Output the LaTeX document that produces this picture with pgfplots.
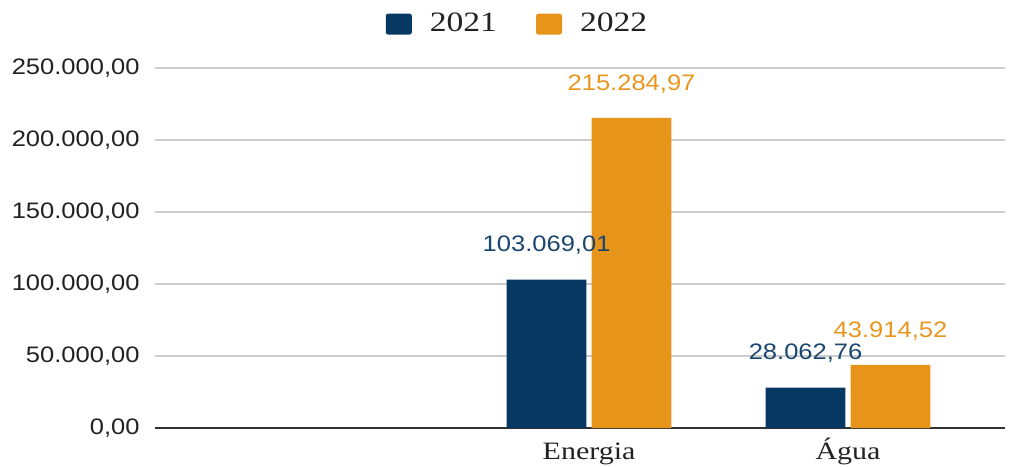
\documentclass[border=0pt]{standalone}
\usepackage{fontspec}
\setmainfont[FakeStretch=1.2]{Liberation Serif}
\newfontfamily\labfont[FakeStretch=1.14]{Liberation Sans}
\usepackage{pgfplots}
\pgfplotsset{compat=1.18}
\definecolor{navy}{HTML}{073763}
\definecolor{orng}{HTML}{E6941A}
\definecolor{navylab}{HTML}{1B4670}
\definecolor{orlab}{HTML}{E8961E}
\definecolor{txt}{HTML}{222222}
\begin{document}
\begin{tikzpicture}
\useasboundingbox (-77.5pt,-19pt) rectangle (428pt,214pt);
\begin{axis}[
  scale only axis,
  width=425pt, height=180pt,
  xmin=-0.676, xmax=2.606,
  ymin=0, ymax=250000,
  ytick={0,50000,100000,150000,200000,250000},
  xtick={1,2},
  xticklabels={Energia,Água},
  axis x line*=bottom,
  axis y line*=left,
  y axis line style={draw=none},
  x axis line style={draw=black!80, line width=0.7pt},
  major tick length=0pt,
  ymajorgrids,
  grid style={black!20, line width=0.6pt},
  scaled y ticks=false,
  /pgf/number format/.cd, fixed, fixed zerofill, precision=2, use comma, 1000 sep={.}, assume math mode=true,
  /pgfplots/.cd,
  yticklabel style={font=\labfont\fontsize{11.2}{13}\selectfont, text=txt, anchor=east, inner sep=0pt, xshift=-7.5pt},
  xticklabel style={font=\fontsize{12.5}{14}\selectfont, text=txt, anchor=base, inner sep=0pt, yshift=-15.5pt},
  ybar=0pt,
  bar width=0.308,
  nodes near coords,
  every node near coord/.append style={font=\labfont\fontsize{11.2}{13}\selectfont, anchor=center, yshift=17pt},
  legend columns=2,
  legend style={at={(axis description cs:0.264,1.122)}, anchor=west, draw=none, fill=none,
    font=\fontsize{14}{16}\selectfont, text=txt,
    /tikz/every odd column/.append style={column sep=7pt},
    /tikz/every even column/.append style={column sep=17.5pt}},
  legend image code/.code={\fill[#1, rounded corners=1.2pt] (0pt,-5.25pt) rectangle (13pt,5.25pt);},
]
\addplot[fill=navy, draw=none, bar shift=-0.164, every node near coord/.append style={text=navylab}]
  coordinates {(1,103069.01) (2,28062.76)};
\addplot[fill=orng, draw=none, bar shift=0.164, every node near coord/.append style={text=orlab}]
  coordinates {(1,215284.97) (2,43914.52)};
\legend{2021,2022}
\end{axis}
\end{tikzpicture}
\end{document}
